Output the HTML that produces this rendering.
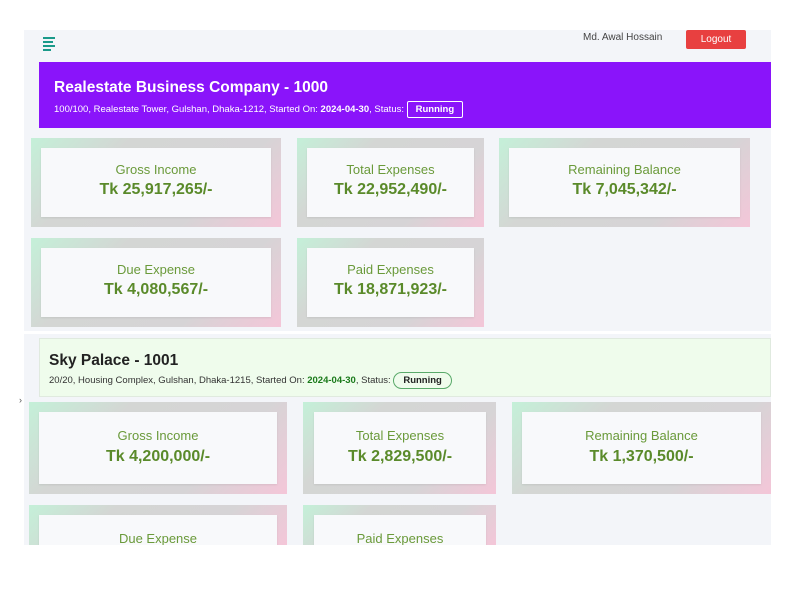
<!DOCTYPE html>
<html><head><meta charset="utf-8"><style>
*{margin:0;padding:0;box-sizing:border-box}
body{width:800px;height:600px;background:#fff;position:relative;overflow:hidden;font-family:"Liberation Sans",sans-serif}
.app{position:absolute;left:24px;top:30px;width:747px;height:515px;background:#f3f5f9;overflow:hidden}
.a{position:absolute}
.o{position:absolute;background:linear-gradient(135deg,#c4f0d8 0%,#d4d6d4 30%,#d6d4d6 70%,#f4c6d8 100%)}
.i{position:absolute;background:#f8f9fb;box-shadow:0 1px 2px rgba(0,0,0,.08);text-align:center;color:#6a9a3a}
.i .t{font-size:13px;margin-top:14px}
.i .v{font-size:16px;font-weight:bold;margin-top:4px;color:#5a8a2a}
.o2 .i .t{margin-top:16px}
.o2 .i .v{margin-top:5px}
</style></head><body>
<div class="app"></div>
<div class="a" style="left:43px;top:37px;width:12px">
<div style="height:2px;background:#1a9a8a;margin-bottom:2px;width:12px"></div>
<div style="height:2px;background:#1a9a8a;margin-bottom:2px;width:10px"></div>
<div style="height:2px;background:#1a9a8a;margin-bottom:2px;width:12px"></div>
<div style="height:2px;background:#1a9a8a;width:8px"></div></div>
<div class="a" style="left:583px;top:32px;font-size:10px;color:#444">Md. Awal Hossain</div>
<div class="a" style="left:686px;top:30px;width:60px;height:19px;background:#e84040;border-radius:2px;color:#fff;font-size:10px;text-align:center;line-height:19px">Logout</div>

<div class="a" style="left:39px;top:62px;width:732px;height:66px;background:#8a14fa;color:#fff">
<div style="position:absolute;left:15px;top:17px;font-size:15.5px;font-weight:bold">Realestate Business Company - 1000</div>
<div style="position:absolute;left:15px;top:39px;font-size:9.5px;white-space:nowrap">100/100, Realestate Tower, Gulshan, Dhaka-1212, Started On: <b>2024-04-30</b>, Status: <span style="display:inline-block;border:1px solid #fff;border-radius:2px;padding:2px 8px;font-weight:bold">Running</span></div></div>

<div class="o" style="left:31px;top:138px;width:250px;height:89px"><div class="i" style="left:10px;top:10px;width:230px;height:69px"><div class="t">Gross Income</div><div class="v">Tk 25,917,265/-</div></div></div>
<div class="o" style="left:297px;top:138px;width:187px;height:89px"><div class="i" style="left:10px;top:10px;width:167px;height:69px"><div class="t">Total Expenses</div><div class="v">Tk 22,952,490/-</div></div></div>
<div class="o" style="left:499px;top:138px;width:251px;height:89px"><div class="i" style="left:10px;top:10px;width:231px;height:69px"><div class="t">Remaining Balance</div><div class="v">Tk 7,045,342/-</div></div></div>
<div class="o" style="left:31px;top:238px;width:250px;height:89px"><div class="i" style="left:10px;top:10px;width:230px;height:69px"><div class="t">Due Expense</div><div class="v">Tk 4,080,567/-</div></div></div>
<div class="o" style="left:297px;top:238px;width:187px;height:89px"><div class="i" style="left:10px;top:10px;width:167px;height:69px"><div class="t">Paid Expenses</div><div class="v">Tk 18,871,923/-</div></div></div>

<div class="a" style="left:24px;top:331px;width:747px;height:3px;background:#fff"></div>
<div class="a" style="left:39px;top:338px;width:732px;height:59px;background:#effcec;border:1px solid #e0eadf">
<div style="position:absolute;left:9px;top:13px;font-size:15.5px;font-weight:bold;color:#222">Sky Palace - 1001</div>
<div style="position:absolute;left:9px;top:33px;font-size:9.5px;color:#333;white-space:nowrap">20/20, Housing Complex, Gulshan, Dhaka-1215, Started On: <b style="color:#1a7a1a">2024-04-30</b>, Status: <span style="display:inline-block;border:1px solid #5aaa6a;border-radius:9px;padding:2px 9px;font-weight:bold;color:#222">Running</span></div></div>

<div class="o o2" style="left:29px;top:402px;width:258px;height:92px"><div class="i" style="left:10px;top:10px;width:238px;height:72px"><div class="t">Gross Income</div><div class="v">Tk 4,200,000/-</div></div></div>
<div class="o o2" style="left:303px;top:402px;width:193px;height:92px"><div class="i" style="left:11px;top:10px;width:172px;height:72px"><div class="t">Total Expenses</div><div class="v">Tk 2,829,500/-</div></div></div>
<div class="o o2" style="left:512px;top:402px;width:259px;height:92px"><div class="i" style="left:10px;top:10px;width:239px;height:72px"><div class="t">Remaining Balance</div><div class="v">Tk 1,370,500/-</div></div></div>
<div class="o o2" style="left:29px;top:505px;width:258px;height:40px;overflow:hidden"><div class="i" style="left:10px;top:10px;width:238px;height:72px"><div class="t" style="margin-top:16px">Due Expense</div></div></div>
<div class="o o2" style="left:303px;top:505px;width:193px;height:40px;overflow:hidden"><div class="i" style="left:11px;top:10px;width:172px;height:72px"><div class="t" style="margin-top:16px">Paid Expenses</div></div></div>
<div class="a" style="left:19px;top:395px;font-size:9px;color:#555">›</div>
</body></html>
